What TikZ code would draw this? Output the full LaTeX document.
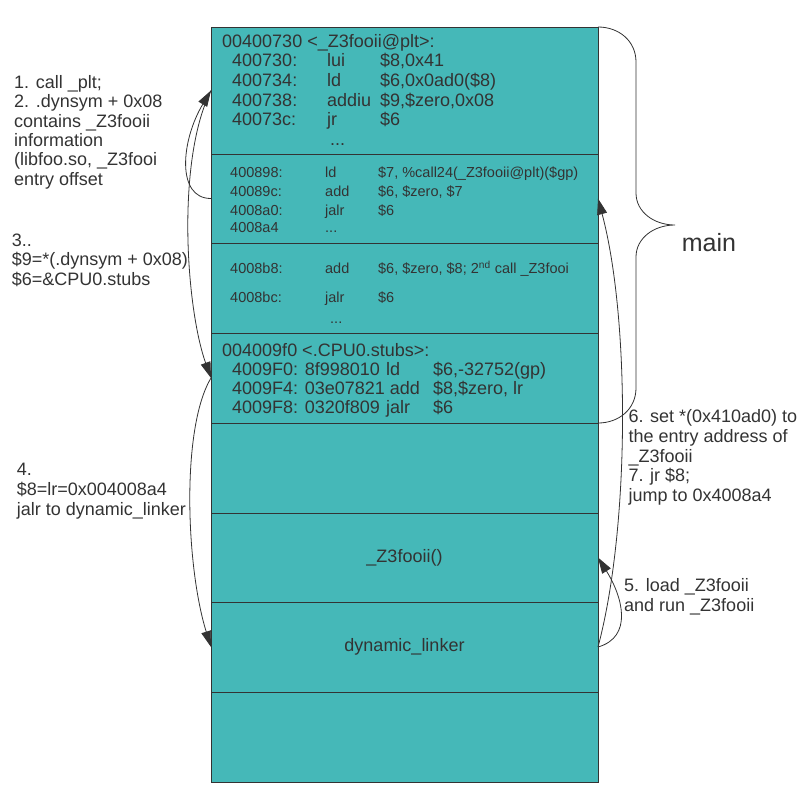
\documentclass[tikz,border=0pt]{standalone}
\usepackage{fontspec}
\setmainfont{Liberation Sans}
\usetikzlibrary{positioning,arrows.meta}
\definecolor{segfill}{RGB}{69,184,184}
\definecolor{inkgray}{RGB}{51,51,51}
\newcommand{\insn}[3]{\makebox[95pt][l]{#1}\makebox[53pt][l]{#2}#3}
\newcommand{\stubinsn}[3]{\makebox[154pt][l]{#1}\makebox[47pt][l]{#2}#3}
\tikzset{
  seg/.style={draw=inkgray, fill=segfill, line width=1pt, minimum width=387pt,
    inner sep=0pt, outer sep=0pt, text=inkgray, font=\fontsize{18}{20}\selectfont},
  codetxt/.style={anchor=base west, inner sep=0pt, align=left, text=inkgray},
  note/.style={anchor=base west, inner sep=0pt, align=left, text=inkgray},
  flow/.style={draw=inkgray, line width=0.8pt, -{Triangle[length=16pt,width=10pt]}},
}

\begin{document}
\begin{tikzpicture}[x=1pt,y=-1pt]
\useasboundingbox (0,0) rectangle (798,804);

\node[seg, minimum height=127pt, anchor=north west] (plt) at (211,27) {};
\node[seg, minimum height=89pt, below=0pt of plt] (call1) {};
\node[seg, minimum height=90pt, below=0pt of call1] (call2) {};
\node[seg, minimum height=90pt, below=0pt of call2] (stubs) {};
\node[seg, minimum height=90pt, below=0pt of stubs] (blank1) {};
\node[seg, minimum height=89pt, below=0pt of blank1] (foo) {\_Z3fooii()};
\node[seg, minimum height=90pt, below=0pt of foo] (linker) {dynamic\_linker};
\node[seg, minimum height=90pt, below=0pt of linker] (blank2) {};

% multi-line nodes sit on the baseline of their last line
\node[codetxt, font=\fontsize{18}{19.6}\selectfont] (pltcode) at (222,145.3) {00400730 <\_Z3fooii@plt>:\\
  \hspace*{10pt}\insn{400730:}{lui}{\$8,0x41}\\
  \hspace*{10pt}\insn{400734:}{ld}{\$6,0x0ad0(\$8)}\\
  \hspace*{10pt}\insn{400738:}{addiu}{\$9,\$zero,0x08}\\
  \hspace*{10pt}\insn{40073c:}{jr}{\$6}\\
  \hspace*{10pt}\makebox[98pt][l]{}...};
\node[codetxt, font=\fontsize{14.5}{19.4}\selectfont] (call1code) at (230,232.6) {\insn{400898:}{ld}{\$7, \%call24(\_Z3fooii@plt)(\$gp)}\\
  \insn{40089c:}{add}{\$6, \$zero, \$7}\\
  \insn{4008a0:}{jalr}{\$6}\\[-2.6pt]
  \insn{4008a4}{...}{}};
\node[codetxt, font=\fontsize{14.5}{19.4}\selectfont] (call2code) at (230,323.3) {\insn{4008b8:}{add}{\$6, \$zero, \$8; 2\textsuperscript{nd} call \_Z3fooi}\\[9.6pt]
  \insn{4008bc:}{jalr}{\$6}\\[1.6pt]
  \makebox[100pt][l]{}...};
\node[codetxt, font=\fontsize{18}{19.2}\selectfont] (stubcode) at (222,413.6) {004009f0 <.CPU0.stubs>:\\
  \hspace*{10pt}\stubinsn{4009F0: 8f998010}{ld}{\$6,-32752(gp)}\\
  \hspace*{10pt}\makebox[201pt][l]{4009F4: 03e07821 add}\$8,\$zero, lr\\
  \hspace*{10pt}\stubinsn{4009F8: 0320f809}{jalr}{\$6}};

\node[note, font=\fontsize{18}{19.4}\selectfont] (step12) at (14,185.3) {1. call \_plt;\\2. .dynsym + 0x08\\contains \_Z3fooii\\information\\(libfoo.so, \_Z3fooi\\entry offset};
\node[note, font=\fontsize{18}{19.2}\selectfont] (step3) at (11.7,285.1) {3..\\\$9=*(.dynsym + 0x08)\\\$6=\&CPU0.stubs};
\node[note, font=\fontsize{18}{20}\selectfont] (step4) at (16.7,515) {4.\\\$8=lr=0x004008a4\\jalr to dynamic\_linker};
\node[note, font=\fontsize{18}{19.85}\selectfont] (step67) at (628.3,501.7) {6. set *(0x410ad0) to\\the entry address of\\\_Z3fooii\\7. jr \$8;\\jump to 0x4008a4};
\node[note, font=\fontsize{18}{20}\selectfont] (step5) at (624,611.7) {5. load \_Z3fooii\\and run \_Z3fooii};
\node[note, font=\fontsize{25}{28}\selectfont] (mainlbl) at (681.7,251.7) {main};

\draw[draw=inkgray, line width=0.8pt] (plt.north east) .. controls (619,27) and (636,41) .. (636,62)
  -- (636,193) .. controls (636,212) and (654,225) .. (675,225)
  .. controls (654,225) and (636,238) .. (636,257)
  -- (636,388) .. controls (636,409) and (619,423) .. (stubs.south east);

\draw[flow] (call1.west) .. controls +(-35,0) and +(-30,50) .. (plt.west);
\draw[flow] (plt.west) .. controls +(-35,70) and +(-25,-70) .. (stubs.west);
\draw[flow] (stubs.west) .. controls +(-30,50) and +(-25,-80) .. (linker.west);
\draw[flow] (linker.east) .. controls +(35,-10) and +(25,40) .. (foo.east);
\draw[flow] (linker.east) .. controls +(32,-120) and +(32,120) .. (call1.east);
\end{tikzpicture}
\end{document}
